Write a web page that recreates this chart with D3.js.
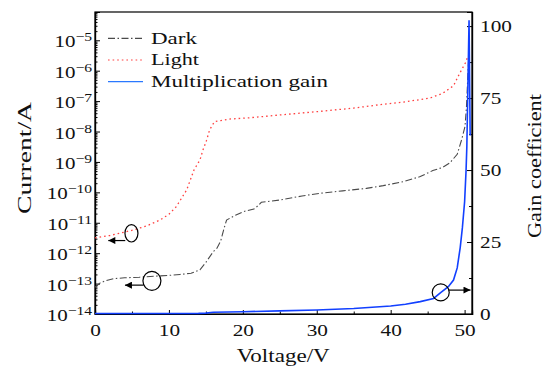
<!DOCTYPE html>
<html>
<head>
<meta charset="utf-8">
<script src="https://cdn.jsdelivr.net/npm/d3@7"></script>
<style>
body { margin: 0; background: #fff; }
svg { display: block; }
text { font-family: "Liberation Serif", "DejaVu Serif", serif; fill: #111; }
</style>
</head>
<body>
<svg id="chart" width="549" height="367"></svg>
<script>
// Dark current (A) vs voltage (V)
const darkV = [0, 0.7, 1.5, 2.5, 4, 6, 8, 10, 11.5, 13, 14.2, 15, 16, 16.5, 17, 17.5, 17.8, 19, 20.1, 21.5, 22, 22.5, 25, 28, 30.4, 33.5, 36.7, 39, 41.7, 44, 45.7, 47, 48, 49, 49.6, 50.05, 50.25, 50.45, 50.55];
const darkI = [7.6e-14, 1.05e-13, 1.26e-13, 1.45e-13, 1.55e-13, 1.62e-13, 1.74e-13, 1.86e-13, 2.0e-13, 2.19e-13, 2.82e-13, 5.0e-13, 1.12e-12, 1.45e-12, 2.5e-12, 7.1e-12, 1.23e-11, 1.78e-11, 2.34e-11, 2.82e-11, 3.55e-11, 4.7e-11, 5.6e-11, 7.6e-11, 9.3e-11, 1.12e-10, 1.35e-10, 1.66e-10, 2.24e-10, 3.3e-10, 5.2e-10, 6.6e-10, 9.3e-10, 1.78e-9, 5.4e-9, 1.45e-8, 6.3e-8, 7.9e-7, 2.5e-6];

// Light current (A)
const lightV = [0, 2, 5.2, 7, 8.8, 10, 11, 12.4, 13.4, 14.2, 14.6, 15.1, 15.5, 15.9, 16.2, 17, 18.2, 20.7, 25, 30, 35, 38.5, 42, 45.3, 47, 48.5, 49.3, 50.1, 50.4];
const lightI = [3.2e-12, 3.8e-12, 5.8e-12, 7.9e-12, 1.23e-11, 1.9e-11, 3.4e-11, 1.2e-10, 5.5e-10, 1.17e-9, 2.45e-9, 5.2e-9, 1.12e-8, 1.66e-8, 2.14e-8, 2.3e-8, 2.57e-8, 2.8e-8, 3.5e-8, 4.5e-8, 5.9e-8, 7.6e-8, 9.5e-8, 1.26e-7, 1.78e-7, 3.2e-7, 7.9e-7, 1.78e-6, 2.8e-6];

// Multiplication gain (right axis)
const gainV = [0, 5, 10, 14, 15, 16, 20, 25, 30, 35, 40, 42, 44, 45.8, 46.8, 47.8, 48.5, 49, 49.4, 49.7, 50, 50.2, 50.3, 50.45, 50.6, 50.75];
const gainG = [0.15, 0.15, 0.15, 0.2, 0.3, 0.6, 0.8, 1.1, 1.4, 1.9, 2.8, 3.4, 4.3, 5.4, 7.5, 9.5, 11.8, 16, 23, 30, 39, 50, 58, 80, 102, 62];

const xTicks = [0, 10, 20, 30, 40, 50];
const xMinor = [5, 15, 25, 35, 45];
const yExps = [-14, -13, -12, -11, -10, -9, -8, -7, -6, -5];
const gTicks = [0, 25, 50, 75, 100];
const gMinor = [12.5, 37.5, 62.5, 87.5];

const legendNames = ["Dark", "Light", "Multiplication gain"];

// circle + arrow annotations: which axis, centre, arrow tip
const notes = [
  { axis: "left", v: 4.93, val: 4.5e-12, rx: 6.5, ry: 8.7, tipV: 1.8, tipVal: 2.6e-12, side: -1 },
  { axis: "left", v: 7.7, val: 1.23e-13, rx: 9, ry: 9.5, tipV: 4.05, tipVal: 8.9e-14, side: -1 },
  { axis: "right", v: 46.77, val: 7.5, rx: 8.5, ry: 8.5, tipV: 50.8, tipVal: 8.3, side: 1 }
];

const serif = '"Liberation Serif", "DejaVu Serif", serif';
const mLeft = 95, mRight = 472, mTop = 12, mBottom = 314;
const stretch = "scale(1.25,1)"; // reference text is drawn wide

const x = d3.scaleLinear().domain([0, 51]).range([mLeft, mRight]);
const y = d3.scaleLog().domain([1e-14, Math.pow(10, -4.07)]).range([mBottom, mTop]);
const yg = d3.scaleLinear().domain([0, 104.9]).range([mBottom, mTop]);

const svg = d3.select("#chart");

svg.append("defs").append("marker")
  .attr("id", "arrow")
  .attr("viewBox", "0 0 10 10")
  .attr("refX", 10).attr("refY", 5)
  .attr("markerWidth", 9).attr("markerHeight", 7)
  .attr("markerUnits", "userSpaceOnUse")
  .attr("orient", "auto")
  .append("path").attr("d", "M0,0L10,5L0,10z").attr("fill", "#000");

// frame
svg.append("rect")
  .attr("x", mLeft).attr("y", mTop)
  .attr("width", mRight - mLeft).attr("height", mBottom - mTop)
  .attr("fill", "none").attr("stroke", "#000").attr("stroke-width", 1.2);

// bottom axis
svg.append("g").attr("transform", `translate(0,${mBottom})`)
  .call(d3.axisBottom(x).tickValues(xTicks).tickSize(-4).tickPadding(10).tickFormat(d3.format("d")));
svg.append("g").attr("transform", `translate(0,${mBottom})`)
  .call(d3.axisBottom(x).tickValues(xMinor).tickSize(-2.5).tickFormat(""));

// left log axis, minor ticks 2..9 per decade
const minorI = [];
for (let e = -14; e <= -5; e++) {
  for (let m = 2; m <= 9; m++) {
    const v = m * Math.pow(10, e);
    if (v <= y.domain()[1]) minorI.push(v);
  }
}
const yAxis = svg.append("g").attr("transform", `translate(${mLeft},0)`)
  .call(d3.axisLeft(y).tickValues(yExps.map(e => Math.pow(10, e))).tickSize(-5).tickFormat(""));
svg.append("g").attr("transform", `translate(${mLeft},0)`)
  .call(d3.axisLeft(y).tickValues(minorI).tickSize(-2.5).tickFormat(""));

yAxis.selectAll(".tick").each(function (d, i) {
  const t = d3.select(this).append("text")
    .attr("x", -2.5).attr("y", 6.5)
    .attr("text-anchor", "end")
    .attr("transform", "scale(1.2,1)");
  t.append("tspan").attr("font-size", 17.5).text("10");
  t.append("tspan").attr("font-size", 13).attr("dy", -6).text("\u2212" + Math.abs(yExps[i]));
});

// right gain axis
svg.append("g").attr("transform", `translate(${mRight},0)`)
  .call(d3.axisRight(yg).tickValues(gTicks).tickSize(-5).tickPadding(6.5).tickFormat(d3.format("d")));
svg.append("g").attr("transform", `translate(${mRight},0)`)
  .call(d3.axisRight(yg).tickValues(gMinor).tickSize(-3).tickFormat(""));

svg.selectAll("g").attr("font-family", serif);
svg.selectAll(".domain").attr("stroke", "#000").attr("stroke-width", 1.2);
svg.selectAll(".tick line").attr("stroke", "#000");
svg.selectAll(".tick text").attr("font-family", serif)
  .filter(function () { return !this.getAttribute("transform"); })
  .attr("font-size", 17)
  .attr("transform", stretch);

// curves
const lineI = d3.line().x(d => x(d[0])).y(d => y(d[1]));
const lineG = d3.line().x(d => x(d[0])).y(d => yg(d[1]));

const styles = [
  { color: "#4a4a4a", dash: "7,2.5,1.5,2.5", width: 1.1 },
  { color: "#ff4040", dash: "1.6,3", width: 1.3 },
  { color: "#1240ff", dash: null, width: 1.6 }
];

svg.append("path").datum(d3.zip(darkV, darkI))
  .attr("d", lineI).attr("fill", "none")
  .attr("stroke", styles[0].color).attr("stroke-width", styles[0].width)
  .attr("stroke-dasharray", styles[0].dash);
svg.append("path").datum(d3.zip(lightV, lightI))
  .attr("d", lineI).attr("fill", "none")
  .attr("stroke", styles[1].color).attr("stroke-width", styles[1].width)
  .attr("stroke-dasharray", styles[1].dash);
svg.append("path").datum(d3.zip(gainV, gainG))
  .attr("d", lineG).attr("fill", "none")
  .attr("stroke", styles[2].color).attr("stroke-width", styles[2].width);

// annotations
notes.forEach(n => {
  const sy = n.axis === "left" ? y : yg;
  const cx = x(n.v), cy = sy(n.val);
  const ty = sy(n.tipVal);
  svg.append("ellipse")
    .attr("cx", cx).attr("cy", cy).attr("rx", n.rx).attr("ry", n.ry)
    .attr("fill", "none").attr("stroke", "#000").attr("stroke-width", 1.2);
  svg.append("line")
    .attr("x1", cx + n.side * n.rx * 0.95).attr("y1", ty)
    .attr("x2", x(n.tipV)).attr("y2", ty)
    .attr("stroke", "#000").attr("stroke-width", 1.2)
    .attr("marker-end", "url(#arrow)");
});

// legend
const legendWidths = [46, 48, 177];
const legend = svg.append("g").attr("transform", "translate(108,38.3)");
legendNames.forEach((name, i) => {
  const row = legend.append("g").attr("transform", `translate(0,${i * 21.7})`);
  row.append("line").attr("x1", 0).attr("x2", 35).attr("y1", 0).attr("y2", 0)
    .attr("stroke", i === 2 ? "#2a78ff" : styles[i].color)
    .attr("stroke-width", 1.2)
    .attr("stroke-dasharray", styles[i].dash);
  row.append("text").attr("x", 43).attr("y", 5.2).attr("font-size", 16.5)
    .attr("textLength", legendWidths[i]).attr("lengthAdjust", "spacingAndGlyphs")
    .text(name);
});

// axis titles
svg.append("text").attr("x", 236.7).attr("y", 362)
  .attr("font-size", 18).attr("textLength", 93).attr("lengthAdjust", "spacingAndGlyphs")
  .text("Voltage/V");
svg.append("text").attr("transform", "translate(31,214) rotate(-90)")
  .attr("font-size", 18).attr("textLength", 112).attr("lengthAdjust", "spacingAndGlyphs")
  .text("Current/A");
svg.append("text").attr("transform", "translate(541,238) rotate(-90)")
  .attr("font-size", 18).attr("textLength", 144).attr("lengthAdjust", "spacingAndGlyphs")
  .text("Gain coefficient");
</script>
</body>
</html>
